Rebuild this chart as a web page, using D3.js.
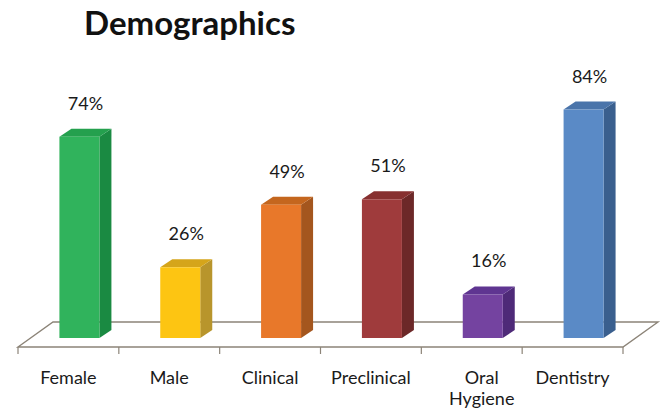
<!DOCTYPE html>
<html>
<head>
<meta charset="utf-8">
<script src="https://cdn.jsdelivr.net/npm/d3@7"></script>
<style>
  body { margin: 0; background: #fff; }
  svg { display: block; font-family: Lato, "Open Sans", sans-serif; }
</style>
</head>
<body>
<svg width="661" height="411"></svg>
<script>
var categories = ["Female", "Male", "Clinical", "Preclinical", "Oral Hygiene", "Dentistry"];
var values = [74, 26, 49, 51, 16, 84];
var frontColors = ["#30b35c", "#fdc512", "#e8782a", "#9f3b3c", "#7443a0", "#5a8ac6"];
var sideColors  = ["#1a8a42", "#b8952c", "#a4561e", "#6c2828", "#4e2a78", "#3a5f8e"];
var topColors   = ["#24a04e", "#d5a51a", "#c4661e", "#873030", "#5f3591", "#4a74aa"];

var svg = d3.select("svg");

var floorY = 347, depthX = 35, depthY = -25;
var xScale = d3.scaleBand().domain(categories).range([18, 623]);
var yScale = d3.scaleLinear().domain([0, 100]).range([338, 66]);

var barW = 40, dx = 12, dy = -8;

// title
svg.append("text")
    .attr("x", 84).attr("y", 35)
    .attr("font-size", 33)
    .attr("font-weight", "bold")
    .attr("fill", "#111")
    .text("Demographics");

// floor
var x0 = xScale.range()[0], x1 = xScale.range()[1];
svg.append("path")
    .attr("d", "M" + x0 + "," + floorY + "L" + (x0 + depthX) + "," + (floorY + depthY) +
               "L" + (x1 + depthX) + "," + (floorY + depthY) + "L" + x1 + "," + floorY + "Z")
    .attr("fill", "none")
    .attr("stroke", "#8c8478")
    .attr("stroke-width", 1.4);

// ticks on front edge
svg.selectAll(".tick")
    .data(d3.range(categories.length + 1))
    .enter().append("line")
    .attr("x1", function(i) { return x0 + i * xScale.bandwidth(); })
    .attr("x2", function(i) { return x0 + i * xScale.bandwidth(); })
    .attr("y1", floorY).attr("y2", floorY + 7)
    .attr("stroke", "#8c8478")
    .attr("stroke-width", 1.2);

var bars = svg.selectAll(".bar")
    .data(categories)
    .enter().append("g")
    .attr("class", "bar");

function left(d) { return xScale(d) + xScale.bandwidth() / 2 + 11 - barW / 2; }

// side face
bars.append("path")
    .attr("d", function(d, i) {
        var l = left(d) + barW, t = yScale(values[i]), b = yScale(0);
        return "M" + l + "," + t + "L" + (l + dx) + "," + (t + dy) + "L" + (l + dx) + "," + (b + dy) + "L" + l + "," + b + "Z";
    })
    .attr("fill", function(d, i) { return sideColors[i]; });

// top face
bars.append("path")
    .attr("d", function(d, i) {
        var l = left(d), t = yScale(values[i]);
        return "M" + l + "," + t + "L" + (l + dx) + "," + (t + dy) + "L" + (l + barW + dx) + "," + (t + dy) + "L" + (l + barW) + "," + t + "Z";
    })
    .attr("fill", function(d, i) { return topColors[i]; });

// front face
bars.append("rect")
    .attr("x", function(d) { return left(d); })
    .attr("y", function(d, i) { return yScale(values[i]); })
    .attr("width", barW)
    .attr("height", function(d, i) { return yScale(0) - yScale(values[i]); })
    .attr("fill", function(d, i) { return frontColors[i]; });

// value labels
bars.append("text")
    .attr("x", function(d) { return left(d) + (barW + dx) / 2; })
    .attr("y", function(d, i) { return yScale(values[i]) - 27; })
    .attr("text-anchor", "middle")
    .attr("font-size", 18)
    .attr("fill", "#1a1a1a")
    .text(function(d, i) { return values[i] + "%"; });

// category labels
svg.selectAll(".cat")
    .data(categories)
    .enter().append("text")
    .attr("class", "cat")
    .attr("text-anchor", "middle")
    .attr("font-size", 18)
    .attr("fill", "#1a1a1a")
    .attr("x", function(d) { return xScale(d) + xScale.bandwidth() / 2 + (d === "Oral Hygiene" ? 10 : 0); })
    .attr("y", 384)
    .each(function(d) {
        var words = d === "Oral Hygiene" ? ["Oral", "Hygiene"] : [d];
        var t = d3.select(this), x = t.attr("x");
        words.forEach(function(w, k) {
            t.append("tspan").attr("x", x).attr("dy", k ? 21 : 0).text(w);
        });
    });
</script>
</body>
</html>
